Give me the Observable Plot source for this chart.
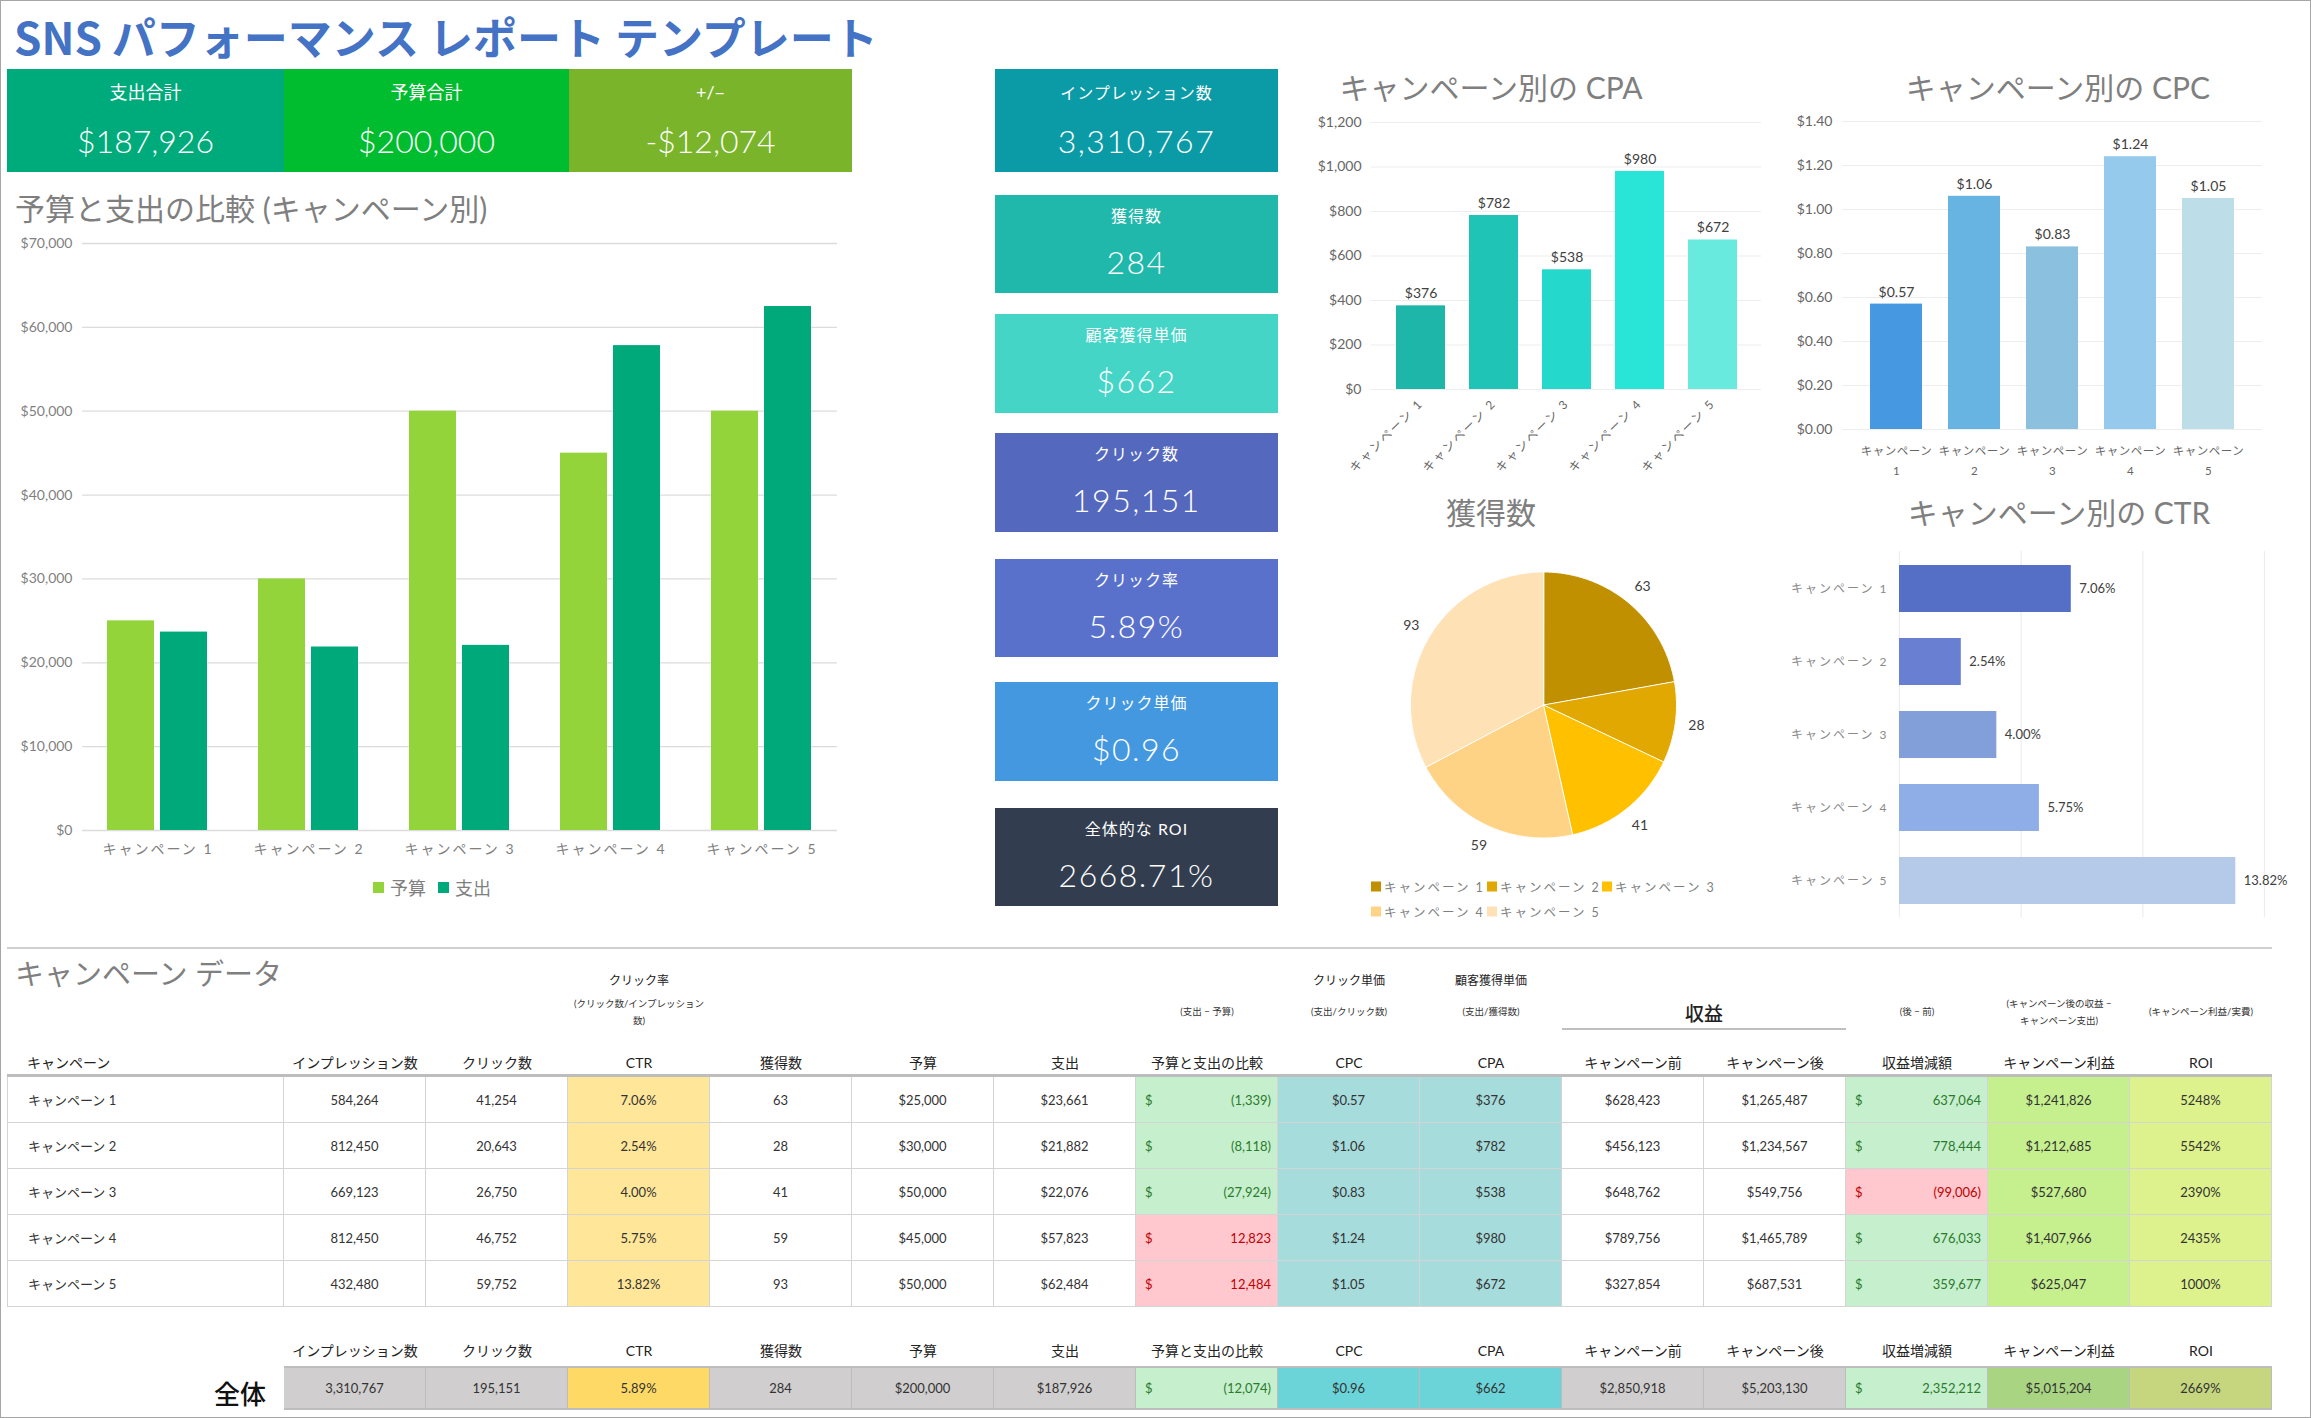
<!DOCTYPE html>
<html lang="ja">
<head>
<meta charset="utf-8">
<title>SNS パフォーマンス レポート テンプレート</title>
<script src="https://cdn.jsdelivr.net/npm/d3@7"></script>
<script src="https://cdn.jsdelivr.net/npm/@observablehq/plot@0.6"></script>
<style>
  html, body { margin:0; padding:0; background:#fff; }
  body { position:relative; width:2311px; height:1418px; overflow:hidden; font-family: Lato, "Noto Sans CJK JP", sans-serif; }
  .a { position:absolute; box-sizing:border-box; }
  .cell { display:flex; align-items:center; justify-content:center; font-size:13px; color:#333; border-right:1px solid #d4d4d4; border-bottom:1px solid #d4d4d4; white-space:nowrap; }
  .cell.left { justify-content:flex-start; padding-left:20px; }
  .cell.accc { justify-content:space-between; padding:0 6px 0 9px; }
  .kpi { color:#fff; }
  .kpi .l, .kpi .v { position:absolute; left:0; right:0; text-align:center; transform:translateY(-50%); white-space:nowrap; line-height:1.1; }
  .kpi .v { font-weight:300; }
</style>
</head>
<body>
<script>
// ---------------- DATA ----------------
const campaigns = ["キャンペーン 1", "キャンペーン 2", "キャンペーン 3", "キャンペーン 4", "キャンペーン 5"];
const seriesNames = ["予算", "支出"];
const impressions = [584264, 812450, 669123, 812450, 432480];
const clicks = [41254, 20643, 26750, 46752, 59752];
const ctrPct = [7.06, 2.54, 4.00, 5.75, 13.82];
const acquisitions = [63, 28, 41, 59, 93];
const budget = [25000, 30000, 50000, 45000, 50000];
const spend = [23661, 21882, 22076, 57823, 62484];
const budgetDiff = [-1339, -8118, -27924, 12823, 12484];
const cpc = [0.57, 1.06, 0.83, 1.24, 1.05];
const cpa = [376, 782, 538, 980, 672];
const revBefore = [628423, 456123, 648762, 789756, 327854];
const revAfter = [1265487, 1234567, 549756, 1465789, 687531];
const revChange = [637064, 778444, -99006, 676033, 359677];
const profit = [1241826, 1212685, 527680, 1407966, 625047];
const roiPct = [5248, 5542, 2390, 2435, 1000];
// totals: impressions, clicks, CTR, acquisitions, budget, spend, diff, CPC, CPA, before, after, change, profit, ROI
const totalValues = [3310767, 195151, 5.89, 284, 200000, 187926, -12074, 0.96, 662, 2850918, 5203130, 2352212, 5015204, 2669];

const kpiTopLabels = ["支出合計", "予算合計", "+/−"];
const kpiTopValues = ["$187,926", "$200,000", "-$12,074"];
const kpiSideLabels = ["インプレッション数", "獲得数", "顧客獲得単価", "クリック数", "クリック率", "クリック単価", "全体的な ROI"];
const kpiSideValues = ["3,310,767", "284", "$662", "195,151", "5.89%", "$0.96", "2668.71%"];

const tableCols = ["キャンペーン", "インプレッション数", "クリック数", "CTR", "獲得数", "予算", "支出", "予算と支出の比較", "CPC", "CPA", "キャンペーン前", "キャンペーン後", "収益増減額", "キャンペーン利益", "ROI"];

// ---------------- STYLES ----------------
const FONT = 'Lato, "Noto Sans CJK JP", sans-serif';
const bvColors = ["#92D43A", "#00A979"];
const cpaColors = ["#1EB6A9", "#20C4B7", "#24D8CB", "#28E5D8", "#68EADF"];
const cpcColors = ["#4698E0", "#67B3E1", "#8BC1DF", "#95CAEC", "#BDDDE9"];
const pieColors = ["#C09000", "#E0A800", "#FFC000", "#FFD386", "#FFE1B6"];
const ctrColors = ["#566FC6", "#6980D2", "#839FD9", "#8FADE6", "#B5C9E8"];
const topKpiColors = ["#00AB7B", "#00BD2F", "#79B42B"];
const sideKpiColors = ["#0B9BA6", "#1FB8AB", "#45D5C7", "#5468BE", "#5A71CC", "#4498E0", "#323E4F"];

// ---------------- HELPERS ----------------
function box(cls, x, y, w, h, css) {
  const d = document.createElement("div");
  d.className = "a " + (cls || "");
  d.style.left = x + "px"; d.style.top = y + "px";
  if (w != null) d.style.width = w + "px";
  if (h != null) d.style.height = h + "px";
  Object.assign(d.style, css || {});
  document.body.appendChild(d);
  return d;
}
function textAt(txt, x, y, css, anchor) {
  const d = box("", x, y, null, null, css);
  d.textContent = txt;
  d.style.whiteSpace = "nowrap";
  d.style.lineHeight = "1.1";
  const tx = anchor === "middle" ? "-50%" : anchor === "end" ? "-100%" : "0";
  d.style.transform = `translate(${tx}, -50%)`;
  return d;
}
function spaceCampaignText(svg, px, size) {
  const sel = d3.select(svg).selectAll("text").filter(function () { return this.textContent.includes("キャンペーン"); })
    .style("letter-spacing", px + "px");
  if (size) sel.style("font-size", size + "px");
}
const fmtN = d3.format(",");
const usd = d => "$" + fmtN(d);
const usd2 = d => "$" + d.toFixed(2);
const acc = d => d < 0 ? "(" + fmtN(-d) + ")" : fmtN(d);
const pct2 = d => d.toFixed(2) + "%";

// frame
box("", 0, 0, 2311, 1418, {border: "1px solid #a6a6a6", pointerEvents: "none"});

// ---------------- TITLE + KPIs ----------------
textAt("SNS パフォーマンス レポート テンプレート", 14, 36,
  {color: "#4472C4", fontFamily: '"Noto Sans CJK JP", sans-serif', fontWeight: "700", fontSize: "44px"});

const topBoxes = [[7, 277], [284, 285], [569, 283]];
topBoxes.forEach(([x, w], i) => {
  const b = box("kpi", x, 69, w, 103, {background: topKpiColors[i]});
  b.innerHTML = `<div class="l" style="top:24px;font-size:18px">${kpiTopLabels[i]}</div><div class="v" style="top:72px;font-size:32px">${kpiTopValues[i]}</div>`;
});

const sideBoxes = [[69, 103], [195, 98], [314, 99], [433, 99], [559, 98], [682, 99], [808, 98]];
sideBoxes.forEach(([y, h], i) => {
  const b = box("kpi", 995, y, 283, h, {background: sideKpiColors[i]});
  const ly = i === 0 ? 24 : 21, vy = i === 0 ? 72 : 67;
  b.innerHTML = `<div class="l" style="top:${ly}px;font-size:16px;letter-spacing:1px">${kpiSideLabels[i]}</div><div class="v" style="top:${vy}px;font-size:32px;letter-spacing:1.5px">${kpiSideValues[i]}</div>`;
});

// ---------------- BUDGET vs SPEND ----------------
const titleCss = {color: "#7f7f7f", fontSize: "30px", fontFamily: FONT};
textAt("予算と支出の比較 (キャンペーン別)", 15, 208, titleCss);

const bvRows = campaigns.flatMap((c, i) => [
  {campaign: c, series: seriesNames[0], value: budget[i]},
  {campaign: c, series: seriesNames[1], value: spend[i]}
]);
const bvTicks = d3.range(0, 70001, 10000);
const bv = Plot.plot({
  width: 870, height: 650, marginLeft: 81, marginRight: 33, marginTop: 15, marginBottom: 48,
  style: {background: "transparent", fontFamily: FONT, fontSize: "14px", color: "#7f7f7f", overflow: "visible"},
  fx: {domain: campaigns, padding: 0, label: null, axis: "bottom", tickSize: 0, tickPadding: 14},
  x: {domain: seriesNames, axis: null, paddingInner: 0.11, paddingOuter: 0.46},
  y: {domain: [0, 70000], ticks: bvTicks, tickSize: 0, tickPadding: 10, label: null, tickFormat: d => "$" + fmtN(d)},
  color: {domain: seriesNames, range: bvColors},
  marks: [
    Plot.ruleY(bvTicks, {stroke: "#dcdcdc", strokeWidth: 1.3}),
    Plot.barY(bvRows, {fx: "campaign", x: "series", y: "value", fill: "series"})
  ]
});
spaceCampaignText(bv, 2);
box("", 0, 228).appendChild(bv);

// legend
const lg = box("", 435, 887, null, null, {transform: "translate(-50%,-50%)", display: "flex", alignItems: "center", gap: "6px", fontSize: "18px", color: "#7f7f7f", whiteSpace: "nowrap"});
lg.innerHTML = seriesNames.map((s, i) => `<span style="display:inline-block;width:11px;height:11px;background:${bvColors[i]}"></span><span style="margin-right:6px">${s}</span>`).join("");

// ---------------- CPA ----------------
textAt("キャンペーン別の CPA", 1491, 87, titleCss, "middle");
const cpaRows = campaigns.map((c, i) => ({campaign: c, value: cpa[i]}));
const cpaTicks = d3.range(0, 1201, 200);
const cpaPlot = Plot.plot({
  width: 472, height: 380, marginLeft: 74, marginRight: 8, marginTop: 14, marginBottom: 99,
  style: {background: "transparent", fontFamily: FONT, fontSize: "14px", color: "#666", overflow: "visible"},
  x: {domain: campaigns, padding: 0.33, tickRotate: -45, tickSize: 0, tickPadding: 12, label: null},
  y: {domain: [0, 1200], ticks: cpaTicks, tickSize: 0, tickPadding: 10, label: null, tickFormat: d => "$" + fmtN(d)},
  color: {domain: campaigns, range: cpaColors},
  marks: [
    Plot.ruleY(cpaTicks, {stroke: "#ededed", strokeWidth: 1.2}),
    Plot.barY(cpaRows, {x: "campaign", y: "value", fill: "campaign"}),
    Plot.text(cpaRows, {x: "campaign", y: "value", text: d => "$" + d.value, dy: -12, fill: "#404040", fontSize: 14})
  ]
});
spaceCampaignText(cpaPlot, 2, 12);
box("", 1297, 108).appendChild(cpaPlot);

// ---------------- CPC ----------------
textAt("キャンペーン別の CPC", 2058, 87, titleCss, "middle");
const cpcRows = campaigns.map((c, i) => ({campaign: c, value: cpc[i]}));
const cpcTicks = d3.range(0, 8).map(k => +(k * 0.2).toFixed(1));
const cpcLabel = c => c.replace(" ", "\n");
const cpcMarks = [
  Plot.ruleY(cpcTicks, {stroke: "#ededed", strokeWidth: 1.2}),
  Plot.barY(cpcRows, {x: "campaign", y: "value", fill: "campaign"}),
  Plot.text(cpcRows, {x: "campaign", y: "value", text: d => usd2(d.value), dy: -12, fill: "#404040", fontSize: 14})
];
if (Plot.axisX) cpcMarks.unshift(Plot.axisX({tickSize: 0, tickPadding: 12, lineHeight: 1.7, tickFormat: cpcLabel, label: null, fontSize: 11.5}));
const cpcPlot = Plot.plot({
  width: 542, height: 380, marginLeft: 73, marginRight: 49, marginTop: 13, marginBottom: 59,
  style: {background: "transparent", fontFamily: FONT, fontSize: "14px", color: "#666", overflow: "visible"},
  x: {domain: campaigns, padding: 0.33, tickSize: 0, tickPadding: 12, label: null, tickFormat: cpcLabel},
  y: {domain: [0, 1.4], ticks: cpcTicks, tickSize: 0, tickPadding: 10, label: null, tickFormat: d => "$" + d.toFixed(2)},
  color: {domain: campaigns, range: cpcColors},
  marks: cpcMarks
});
spaceCampaignText(cpcPlot, 0.5, 11.5);
box("", 1769, 108).appendChild(cpcPlot);

// ---------------- PIE (獲得数) ----------------
textAt("獲得数", 1491, 512, titleCss, "middle");
const pieArcs = d3.pie().sort(null).value(d => d)(acquisitions);
const pieRows = pieArcs.flatMap((a, i) => {
  const n = Math.max(2, Math.ceil((a.endAngle - a.startAngle) / 0.01));
  const pts = [{campaign: campaigns[i], px: 0, py: 0}];
  for (let k = 0; k <= n; ++k) {
    const t = a.startAngle + (a.endAngle - a.startAngle) * k / n;
    pts.push({campaign: campaigns[i], px: Math.sin(t), py: Math.cos(t)});
  }
  return pts;
});
const pieLabels = pieArcs.map((a, i) => {
  const m = (a.startAngle + a.endAngle) / 2;
  return {v: acquisitions[i], px: 1.16 * Math.sin(m), py: 1.16 * Math.cos(m)};
});
const piePlot = Plot.plot({
  width: 472, height: 350, marginLeft: 0, marginRight: 0, marginTop: 0, marginBottom: 0,
  style: {background: "transparent", fontFamily: FONT, fontSize: "14px", color: "#404040", overflow: "visible"},
  x: {domain: [-246 / 133, 226 / 133], axis: null},
  y: {domain: [-175.5 / 133, 174.5 / 133], axis: null},
  color: {domain: campaigns, range: pieColors},
  marks: [
    Plot.line(pieRows, {x: "px", y: "py", z: "campaign", fill: "campaign", stroke: "#fff", strokeWidth: 1, curve: "linear-closed"}),
    Plot.text(pieLabels, {x: "px", y: "py", text: d => String(d.v), fill: "#404040", fontSize: 14})
  ]
});
box("", 1297, 530).appendChild(piePlot);

// pie legend
const pieLegendPos = [[1371, 886], [1487, 886], [1602, 886], [1371, 911], [1487, 911]];
campaigns.forEach((c, i) => {
  const [x, y] = pieLegendPos[i];
  const d = box("", x, y, null, null, {transform: "translateY(-50%)", display: "flex", alignItems: "center", gap: "3px", fontSize: "12.5px", color: "#7f7f7f", letterSpacing: "2px", whiteSpace: "nowrap"});
  d.innerHTML = `<span style="display:inline-block;width:10px;height:10px;background:${pieColors[i]}"></span><span>${c}</span>`;
});

// ---------------- CTR ----------------
textAt("キャンペーン別の CTR", 2059, 512, titleCss, "middle");
const ctrRows = campaigns.map((c, i) => ({campaign: c, value: ctrPct[i]}));
const ctrGrid = d3.ticks(0, 15, 3);
const ctrPlot = Plot.plot({
  width: 542, height: 390, marginLeft: 130, marginRight: 47, marginTop: 11, marginBottom: 13,
  style: {background: "transparent", fontFamily: FONT, fontSize: "12px", color: "#8a8a8a", overflow: "visible"},
  x: {domain: [0, 15], axis: null},
  y: {domain: campaigns, paddingInner: 0.36, paddingOuter: 0.18, tickSize: 0, tickPadding: 11, label: null},
  color: {domain: campaigns, range: ctrColors},
  marks: [
    Plot.ruleX(ctrGrid, {stroke: "#ededed", strokeWidth: 1.2}),
    Plot.barX(ctrRows, {x: "value", y: "campaign", fill: "campaign"}),
    Plot.text(ctrRows, {x: "value", y: "campaign", text: d => pct2(d.value), dx: 8, textAnchor: "start", fill: "#404040", fontSize: 13})
  ]
});
spaceCampaignText(ctrPlot, 2);
box("", 1769, 540).appendChild(ctrPlot);

// ---------------- TABLE ----------------
box("", 7, 947, 2265, 2, {background: "#cfcfcf"});
textAt("キャンペーン データ", 15, 974, {color: "#7f7f7f", fontSize: "29px"});

const colLeft = i => i === 0 ? 7 : 284 + (i - 1) * 142;
const colWidth = i => i === 0 ? 277 : 142;
const colMid = i => colLeft(i) + colWidth(i) / 2;

const subSmall = {fontSize: "12px", color: "#222"};
const subTiny = {fontSize: "9.5px", color: "#333"};
textAt("クリック率", colMid(3), 981, subSmall, "middle");
textAt("(クリック数/インプレッション", colMid(3), 1004, subTiny, "middle");
textAt("数)", colMid(3), 1021, subTiny, "middle");
textAt("(支出 − 予算)", colMid(7), 1012, subTiny, "middle");
textAt("クリック単価", colMid(8), 981, subSmall, "middle");
textAt("(支出/クリック数)", colMid(8), 1012, subTiny, "middle");
textAt("顧客獲得単価", colMid(9), 981, subSmall, "middle");
textAt("(支出/獲得数)", colMid(9), 1012, subTiny, "middle");
textAt("収益", colLeft(11), 1014, {fontSize: "19px", color: "#222", fontWeight: "500"}, "middle");
box("", colLeft(10), 1028, 284, 2, {background: "#bfbfbf"});
textAt("(後 − 前)", colMid(12), 1012, subTiny, "middle");
textAt("(キャンペーン後の収益 −", colMid(13), 1004, subTiny, "middle");
textAt("キャンペーン支出)", colMid(13), 1021, subTiny, "middle");
textAt("(キャンペーン利益/実費)", colMid(14), 1012, subTiny, "middle");

const headCss = {fontSize: "14px", color: "#222"};
tableCols.forEach((h, i) => {
  if (i === 0) textAt(h, 27, 1063, headCss);
  else textAt(h, colMid(i), 1063, headCss, "middle");
});
box("", 7, 1074, 2265, 3, {background: "#bdbdbd"});

const GOOD = {bg: "#C6EFCE", fg: "#2B7A2B"};
const BAD = {bg: "#FFC7CE", fg: "#C00000"};
function rowCells(i) {
  return [
    {t: campaigns[i], left: true},
    {t: fmtN(impressions[i])},
    {t: fmtN(clicks[i])},
    {t: pct2(ctrPct[i]), bg: "#FFE699"},
    {t: String(acquisitions[i])},
    {t: usd(budget[i])},
    {t: usd(spend[i])},
    Object.assign({a: acc(budgetDiff[i])}, budgetDiff[i] < 0 ? GOOD : BAD),
    {t: usd2(cpc[i]), bg: "#A6DCDB"},
    {t: usd(cpa[i]), bg: "#A6DCDB"},
    {t: usd(revBefore[i])},
    {t: usd(revAfter[i])},
    Object.assign({a: acc(revChange[i])}, revChange[i] >= 0 ? GOOD : BAD),
    {t: usd(profit[i]), bg: "#C6F08E"},
    {t: roiPct[i] + "%", bg: "#DDF18C"}
  ];
}
function drawCell(c, x, y, w, h, extraCss) {
  const d = box("cell" + (c.left ? " left" : "") + (c.a ? " accc" : ""), x, y, w, h, Object.assign({background: c.bg || "transparent"}, extraCss || {}));
  if (c.a) {
    d.style.color = c.fg;
    d.innerHTML = `<span>$</span><span>${c.a}</span>`;
  } else {
    d.textContent = c.t;
  }
  return d;
}
const rowTop = 1077, rowH = 46;
campaigns.forEach((c, r) => {
  rowCells(r).forEach((cell, i) => {
    drawCell(cell, colLeft(i), rowTop + r * rowH, colWidth(i), rowH, i === 0 ? {borderLeft: "1px solid #d4d4d4"} : null);
  });
});

// totals
tableCols.forEach((h, i) => { if (i > 0) textAt(h, colMid(i), 1351, headCss, "middle"); });
textAt("全体", 266, 1393, {fontSize: "26px", color: "#111", fontFamily: '"Noto Sans CJK JP", sans-serif', fontWeight: "500"}, "end");
const tv = totalValues;
const totalCells = [
  {t: fmtN(tv[0])}, {t: fmtN(tv[1])}, {t: pct2(tv[2]), bg: "#FFD966"}, {t: String(tv[3])},
  {t: usd(tv[4])}, {t: usd(tv[5])}, Object.assign({a: acc(tv[6])}, tv[6] < 0 ? GOOD : BAD),
  {t: usd2(tv[7]), bg: "#6BD4D8"}, {t: usd(tv[8]), bg: "#6BD4D8"},
  {t: usd(tv[9])}, {t: usd(tv[10])}, Object.assign({a: acc(tv[11])}, tv[11] >= 0 ? GOOD : BAD),
  {t: usd(tv[12]), bg: "#A9D582"}, {t: tv[13] + "%", bg: "#C5D67E"}
];
totalCells.forEach((cell, k) => {
  const i = k + 1;
  if (!cell.bg) cell.bg = "#D0CECE";
  drawCell(cell, colLeft(i), 1366, colWidth(i), 44, {borderTop: "2px solid #bdbdbd", borderBottom: "2px solid #bdbdbd", borderRight: "1px solid #bcbcbc"});
});
</script>
</body>
</html>
